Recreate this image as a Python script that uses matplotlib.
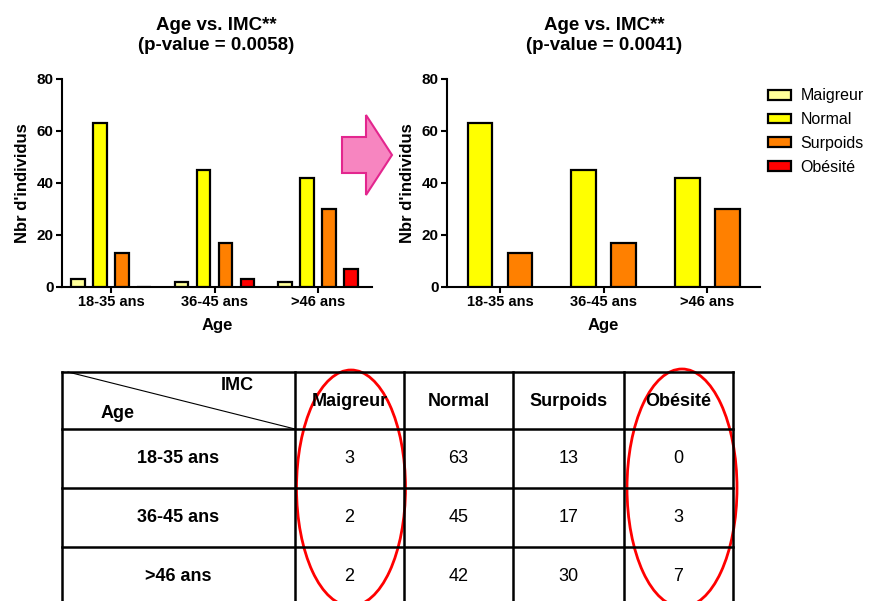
import numpy as np
import matplotlib.pyplot as plt
from matplotlib.patches import Ellipse, Polygon, Rectangle

plt.rcParams['font.family'] = ['Liberation Sans', 'DejaVu Sans']

# data
ages = ["18-35 ans", "36-45 ans", ">46 ans"]
imc = ["Maigreur", "Normal", "Surpoids", "Obésité"]
maigreur = [3, 2, 2]
normal = [63, 45, 42]
surpoids = [13, 17, 30]
obesite = [0, 3, 7]
pvals = ["0.0058", "0.0041"]
colors = ["#FFFF99", "#FFFF00", "#FF8000", "#FF0000"]

W, H = 873, 601
fig = plt.figure(figsize=(W / 100, H / 100), dpi=100)


def px_axes(x0, y0, x1, y1):
    # axes placed by pixel box (top-left origin)
    return fig.add_axes([x0 / W, 1 - y1 / H, (x1 - x0) / W, (y1 - y0) / H])


def style(ax, xlim):
    ax.set_xlim(*xlim)
    ax.set_ylim(0, 80)
    ax.set_yticks([0, 20, 40, 60, 80])
    ax.set_xticks(np.arange(len(ages)))
    ax.set_xticklabels(ages)
    for s in ["top", "right"]:
        ax.spines[s].set_visible(False)
    for s in ["left", "bottom"]:
        ax.spines[s].set_linewidth(1.5)
    ax.tick_params(axis="both", width=1.5, length=4, pad=2)
    ax.tick_params(axis="x", labelsize=10.5)
    ax.tick_params(axis="y", labelsize=11)
    for lab in ax.get_xticklabels() + ax.get_yticklabels():
        lab.set_fontweight("bold")
    ax.set_xlabel("Age", fontsize=12, fontweight="bold", labelpad=6)
    ax.set_ylabel("Nbr d'individus", fontsize=12, fontweight="bold", labelpad=5)


x = np.arange(len(ages))

# left chart: all four categories
ax1 = px_axes(62, 79, 372, 287)
series = [maigreur, normal, surpoids, obesite]
pitch = 0.2125
for i, (vals, c) in enumerate(zip(series, colors)):
    ax1.bar(x + (i - 1.5) * pitch, vals, width=0.13, color=c,
            edgecolor="black", linewidth=1.6, zorder=3)
style(ax1, (-0.473, 2.52))

# right chart: Normal vs Surpoids only
ax2 = px_axes(447, 79, 760, 287)
pitch2 = 0.386
for i, (vals, c) in enumerate(zip([normal, surpoids], colors[1:3])):
    ax2.bar(x + (i - 0.5) * pitch2, vals, width=0.24, color=c,
            edgecolor="black", linewidth=1.6, zorder=3)
style(ax2, (-0.512, 2.51))

# titles
for cx, p in zip([216, 604], pvals):
    fig.text(cx / W, 1 - 25 / H, "Age vs. IMC**", ha="center", va="center",
             fontsize=13.5, fontweight="bold")
    fig.text(cx / W, 1 - 46 / H, "(p-value = %s)" % p, ha="center",
             va="center", fontsize=13.5, fontweight="bold")

# legend
handles = [Rectangle((0, 0), 1, 1, facecolor=c, edgecolor="black",
                     linewidth=1.6) for c in colors]
fig.legend(handles, imc, loc="upper left", bbox_to_anchor=(754 / W, 1 - 74 / H),
           frameon=False, fontsize=11.5, handlelength=1.4, handleheight=0.55,
           handletextpad=0.6, labelspacing=0.55)

# overlay for arrow, table and ellipses
ov = fig.add_axes([0, 0, 1, 1])
ov.set_xlim(0, W)
ov.set_ylim(H, 0)
ov.axis("off")

arrow = Polygon([(342, 137), (366, 137), (366, 115), (392, 155), (366, 195),
                 (366, 173), (342, 173)], closed=True, facecolor="#F785C0",
                edgecolor="#E3268E", linewidth=1.5)
ov.add_patch(arrow)

cols = [62, 295, 404, 513, 624, 733]
rows = [372, 429, 488, 547, 606]
for cx in cols:
    ov.plot([cx, cx], [rows[0], rows[-1]], color="black", lw=1.8,
            solid_capstyle="projecting")
for ry in rows:
    ov.plot([cols[0], cols[-1]], [ry, ry], color="black", lw=1.8,
            solid_capstyle="projecting")
ov.plot([68, cols[1]], [rows[0], rows[1]], color="black", lw=0.8)
ov.text(237, 386, "IMC", ha="center", va="center", fontsize=13, fontweight="bold")
ov.text(118, 413, "Age", ha="center", va="center", fontsize=13, fontweight="bold")

ccen = [(a + b) / 2 for a, b in zip(cols[:-1], cols[1:])]
rcen = [(a + b) / 2 for a, b in zip(rows[:-1], rows[1:])]
for j, name in enumerate(imc):
    ov.text(ccen[j + 1], 401, name, ha="center", va="center", fontsize=13,
            fontweight="bold")
for i, age in enumerate(ages):
    ov.text(ccen[0], rcen[i + 1], age, ha="center", va="center", fontsize=13,
            fontweight="bold")
    for j, vals in enumerate(series):
        ov.text(ccen[j + 1], rcen[i + 1], str(vals[i]), ha="center",
                va="center", fontsize=13)

ov.add_patch(Ellipse((351, 488), 109, 236, fill=False, edgecolor="#FF0000", lw=2))
ov.add_patch(Ellipse((682, 488), 110, 238, fill=False, edgecolor="#FF0000", lw=2))

fig.savefig("out.png", dpi=100)
